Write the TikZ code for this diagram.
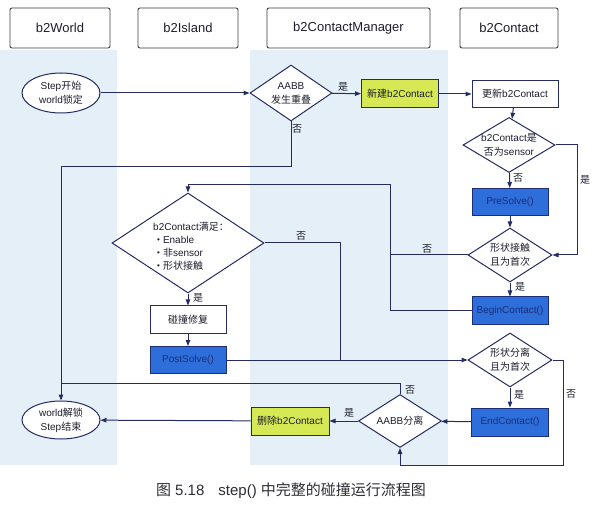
\documentclass[tikz,border=0pt]{standalone}
\usepackage{fontspec}
\setmainfont{Liberation Sans}
\newfontfamily\cjkfont{Noto Sans CJK SC}
\newcommand{\zhx}[1]{{\cjkfont #1}}
\newcommand{\bdot}{\hspace{4pt}\raisebox{0.5pt}{\fontsize{8}{8}\selectfont •}\hspace{3pt}}
\usetikzlibrary{shapes.geometric,arrows.meta,calc}
\definecolor{linec}{RGB}{38,44,98}
\definecolor{bandc}{RGB}{228,239,248}
\definecolor{yellowc}{RGB}{214,232,84}
\definecolor{bluec}{RGB}{46,110,218}
\definecolor{bluedk}{RGB}{28,46,120}
\definecolor{txtc}{RGB}{30,30,45}
\definecolor{hdrc}{RGB}{60,60,72}
\begin{document}
\begin{tikzpicture}[x=1pt,y=-1pt,
  every node/.style={text=txtc, font=\fontsize{10}{14}\selectfont},
  hdr/.style={draw=hdrc, line width=0.9pt, rounded corners=2pt, minimum height=40pt, fill=white, font=\fontsize{13}{15}\selectfont},
  oval/.style={ellipse, draw=linec, line width=1pt, fill=white, inner sep=0pt, align=center, minimum width=78pt, minimum height=40pt},
  dia/.style={diamond, draw=linec, line width=1pt, fill=white, inner sep=0pt},
  procbox/.style={draw=linec, line width=1pt, fill=white, minimum width=76pt, minimum height=27pt, inner sep=1pt},
  ybox/.style={procbox, fill=yellowc},
  bbox/.style={procbox, fill=bluec, draw=bluedk, text=bluedk},
  conn/.style={draw=linec, line width=1pt},
  arr/.style={conn, -{Triangle[length=6pt,width=4.5pt]}},
  lbl/.style={font=\fontsize{10}{12}\selectfont\cjkfont, inner sep=1pt}
]
\useasboundingbox (0,0) rectangle (598,508);
\fill[white] (0,0) rectangle (598,508);
\fill[bandc] (0,50) rectangle (117,465);
\fill[bandc] (250,50) rectangle (448,465);

% headers
\node[hdr, minimum width=100pt] (h1) at (60,28) {b2World};
\node[hdr, minimum width=100pt] (h2) at (188,28) {b2Island};
\node[hdr, minimum width=163pt] (h3) at (348.5,28) {b2ContactManager};
\node[hdr, minimum width=98pt] (h4) at (509,28) {b2Contact};

% nodes
\node[oval] (start) at (61,93) {Step\zhx{开始}\\world\zhx{锁定}};
\node[oval, minimum height=38pt] (stop) at (61,420) {world\zhx{解锁}\\Step\zhx{结束}};

\node[dia, minimum width=82pt, minimum height=56pt,
  label={[align=center]center:{AABB\\\zhx{发生重叠}}}] (d1) at (291,93) {};
\node[ybox, minimum width=77pt, minimum height=28pt] (new) at (400,94) {\zhx{新建}b2Contact};
\node[procbox, minimum width=86pt] (upd) at (515,94) {\zhx{更新}b2Contact};
\node[dia, minimum width=92pt, minimum height=55pt,
  label={[align=center]center:{b2Contact\zhx{是}\\\zhx{否为}sensor}}] (d2) at (509,145) {};
\node[bbox] (pre) at (510,202) {PreSolve()};
\node[dia, minimum width=84pt, minimum height=54pt,
  label={[align=center]center:{\zhx{形状接触}\\\zhx{且为首次}}}] (d3) at (510,255) {};
\node[bbox, minimum height=28pt] (begin) at (510,311) {BeginContact()};

\node[dia, minimum width=152pt, minimum height=100pt,
  label={[align=left, font=\fontsize{10}{13}\selectfont, xshift=3pt, yshift=-3pt]center:{b2Contact\zhx{满足：}\\\bdot Enable\\\bdot\zhx{非}sensor\\\bdot\zhx{形状接触}}}] (big) at (188,243) {};
\node[procbox, minimum height=28pt] (fix) at (188,320) {\zhx{碰撞修复}};
\node[bbox] (post) at (188,360) {PostSolve()};

\node[dia, minimum width=84pt, minimum height=54pt,
  label={[align=center]center:{\zhx{形状分离}\\\zhx{且为首次}}}] (d4) at (510,360) {};
\node[bbox, minimum width=77pt, minimum height=28pt] (endc) at (510,422) {EndContact()};
\node[dia, minimum width=83pt, minimum height=53pt,
  label={center:{AABB\zhx{分离}}}] (d5) at (400,421) {};
\node[ybox, minimum width=78pt, minimum height=28pt] (del) at (290,421) {\zhx{删除}b2Contact};

% junction coordinates
\coordinate (j1) at (390,185);
\coordinate (j2) at (340,360);
\coordinate (c1) at (61,167);
\coordinate (c2) at (61,383);
\coordinate (c3) at (563,465);
\coordinate (c4) at (577,145);

% connectors
\draw[arr] (start) -- (d1);
\draw[arr] (d1) -- (new);
\draw[arr] (new) -- (upd);
\draw[arr] (upd) -- (d2);
\draw[arr] (d2) -- (pre);
\draw[arr] (d2.east) -- (c4) |- (d3.east);
\draw[arr] (pre) -- (d3);
\draw[arr] (d3) -- (begin);
\draw[arr] (begin.west) -| (j1) -| (big.north);
\draw[conn] (d3.west) -- (d3.west -| j1);
\draw[conn] (big.east) -| (j2);
\draw[arr] (big) -- (fix);
\draw[arr] (fix) -- (post);
\draw[arr] (post.east) -- (d4.west);
\draw[arr] (d4) -- (endc);
\draw[arr] (d4.east) -| (c3) -| (d5.south);
\draw[arr] (endc) -- (d5);
\draw[arr] (d5) -- (del);
\draw[arr] (del) -- (stop);
\draw[arr] (d1.south) |- (c1) -- (stop.north);
\draw[conn] (d5.north) |- (c2);

% labels
\node[lbl] (l1) at (343,87) {是};
\node[lbl] (l2) at (297,129) {否};
\node[lbl] (l3) at (518,178) {否};
\node[lbl] (l4) at (585,180) {是};
\node[lbl] (l5) at (427,249) {否};
\node[lbl] (l6) at (520,287) {是};
\node[lbl] (l7) at (301,236) {否};
\node[lbl] (l8) at (198,298) {是};
\node[lbl] (l9) at (519,395) {是};
\node[lbl] (l10) at (571,394) {否};
\node[lbl] (l11) at (410,390) {否};
\node[lbl] (l12) at (349,413) {是};

% caption
\node[text={rgb,255:red,45;green,45;blue,52}, font=\fontsize{15}{18}\selectfont] (cap) at (291,491) {\zhx{图} 5.18\hspace{14pt}step() \zhx{中完整的碰撞运行流程图}};
\end{tikzpicture}
\end{document}
